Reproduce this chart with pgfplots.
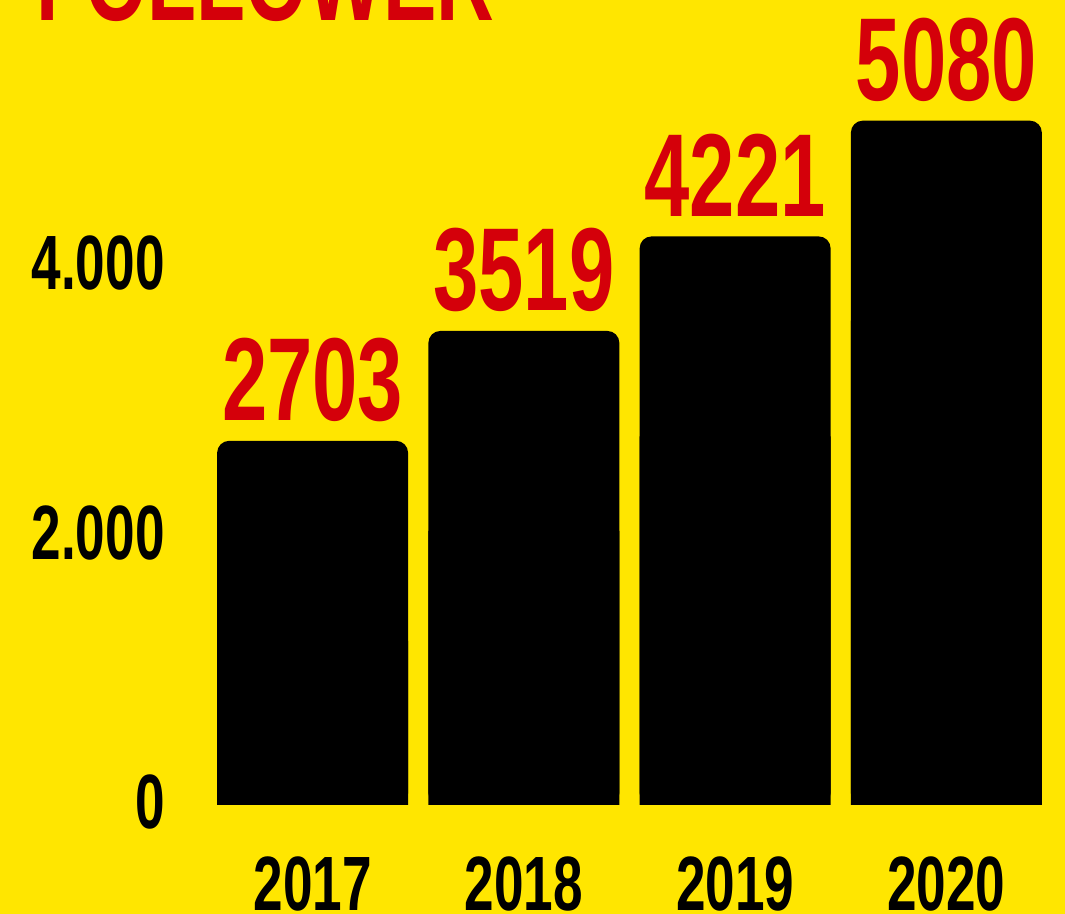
\documentclass[border=0pt]{standalone}
\usepackage{pgfplots}
\pgfplotsset{compat=1.18}
\usepackage{fontspec}
\newfontfamily\bebas[FakeStretch=0.69]{Liberation Sans}
\definecolor{bgyellow}{HTML}{FFE600}
\definecolor{numred}{HTML}{D4000A}

\begin{document}
\begin{tikzpicture}
% canvas: 1px = 0.5pt, axis origin at pixel (207,805)
\path[use as bounding box, fill=bgyellow] (-103.5pt,-54.5pt) rectangle (429pt,402.5pt);
\clip (-103.5pt,-54.5pt) rectangle (429pt,402.5pt);
\node[anchor=base west, inner sep=0pt, text=numred,
      font=\bebas\bfseries\fontsize{58pt}{58pt}\selectfont] at (-85.5pt,392pt) {FOLLOWER};
\begin{axis}[
    at={(0pt,0pt)}, anchor=south west,
    scale only axis, width=422.5pt, height=397.4pt,
    xmin=-0.5, xmax=3.5, ymin=0, ymax=5900,
    xtick={0,1,2,3}, xticklabels={2017,2018,2019,2020},
    ytick={0,2000,4000}, yticklabels={0,2.000,4.000},
    axis line style={draw=none}, major tick length=0pt,
    tick label style={font=\bebas\bfseries\fontsize{38.5pt}{38.5pt}\selectfont, inner sep=0pt},
    yticklabel style={anchor=east, xshift=-21pt, yshift=1.5pt},
    xticklabel style={anchor=north, yshift=-25.5pt},
    /pgf/number format/assume math mode=true,
    /pgf/number format/1000 sep={},
  ]
  \addplot[ybar, bar width=95.5pt, bar shift=0pt, fill=black, draw=none,
    rounded corners=6pt,
    nodes near coords,
    every node near coord/.append style={text=numred, inner sep=0pt, yshift=9.5pt,
      font=\bebas\bfseries\fontsize{59pt}{59pt}\selectfont}]
    coordinates {(0,2703) (1,3519) (2,4221) (3,5080)};
  % square-cornered copy, shifted down, hides the rounded bottom corners
  \addplot[ybar, bar width=95.5pt, bar shift=0pt, fill=black, draw=none, yshift=-100pt]
    coordinates {(0,2703) (1,3519) (2,4221) (3,5080)};
\end{axis}
\end{tikzpicture}
\end{document}
